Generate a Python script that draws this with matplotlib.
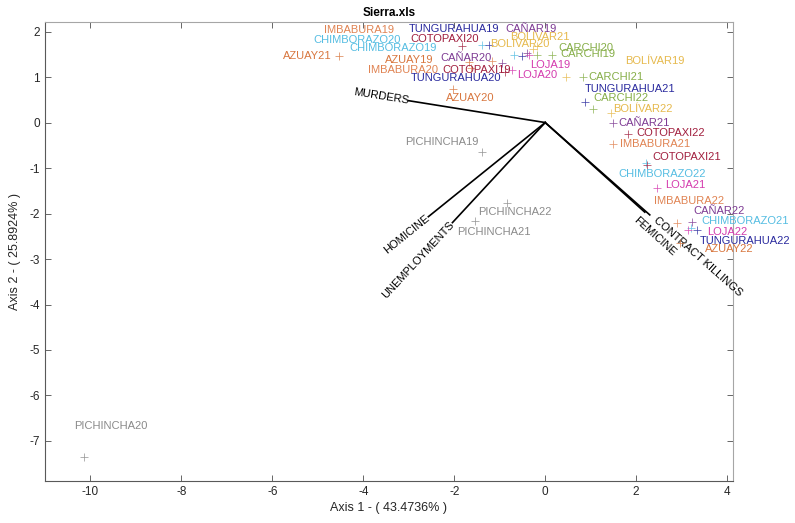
import numpy as np
import matplotlib
matplotlib.use("Agg")
import matplotlib.pyplot as plt

plt.rcParams['font.family'] = ['Liberation Sans', 'DejaVu Sans']
plt.rcParams['axes.unicode_minus'] = False

# scores (marker positions)
names = ['AZUAY19', 'AZUAY20', 'AZUAY21', 'AZUAY22',
         'BOLÍVAR19', 'BOLÍVAR20', 'BOLÍVAR21', 'BOLÍVAR22',
         'CAÑAR19', 'CAÑAR20', 'CAÑAR21', 'CAÑAR22',
         'CARCHI19', 'CARCHI20', 'CARCHI21', 'CARCHI22',
         'CHIMBORAZO19', 'CHIMBORAZO20', 'CHIMBORAZO21', 'CHIMBORAZO22',
         'COTOPAXI19', 'COTOPAXI20', 'COTOPAXI21', 'COTOPAXI22',
         'IMBABURA19', 'IMBABURA20', 'IMBABURA21', 'IMBABURA22',
         'LOJA19', 'LOJA20', 'LOJA21', 'LOJA22',
         'PICHINCHA19', 'PICHINCHA20', 'PICHINCHA21', 'PICHINCHA22',
         'TUNGURAHUA19', 'TUNGURAHUA20', 'TUNGURAHUA21', 'TUNGURAHUA22']

score_x = [-1.67, -2.02, -4.54, 2.96,
           0.46, -0.18, -0.26, 1.45,
           -0.39, -0.94, 1.49, 3.22,
           0.15, -0.18, 0.83, 1.05,
           -0.68, -1.38, 3.20, 2.21,
           -0.88, -1.82, 2.24, 1.82,
           -1.18, -1.64, 1.49, 2.89,
           -0.35, -0.72, 2.46, 3.14,
           -1.38, -10.15, -1.54, -0.83,
           -1.23, -0.50, 0.88, 3.33]

score_y = [1.33, 0.74, 1.47, -2.64,
           1.00, 1.69, 1.62, 0.21,
           1.53, 1.31, 0.00, -2.18,
           1.49, 1.49, 1.00, 0.30,
           1.49, 1.71, -2.31, -0.89,
           1.11, 1.69, -0.93, -0.25,
           1.36, 1.20, -0.47, -2.20,
           1.49, 1.16, -1.44, -2.36,
           -0.64, -7.35, -2.16, -1.76,
           1.71, 1.47, 0.45, -2.36]

# where the text labels sit (left edge, middle)
label_x = [-3.53, -2.19, -5.77, 3.51,
           1.75, -1.21, -0.77, 1.49,
           -0.88, -2.30, 1.62, 3.25,
           0.33, 0.29, 0.94, 1.05,
           -4.30, -5.09, 3.44, 1.60,
           -2.26, -2.96, 2.35, 2.00,
           -4.87, -3.90, 1.64, 2.39,
           -0.33, -0.61, 2.63, 3.57,
           -3.07, -10.37, -1.93, -1.47,
           -3.00, -2.96, 0.88, 3.40]

label_y = [1.38, 0.54, 1.47, -2.78,
           1.36, 1.73, 1.88, 0.30,
           2.06, 1.42, 0.00, -1.94,
           1.51, 1.64, 1.00, 0.54,
           1.64, 1.82, -2.16, -1.13,
           1.16, 1.84, -0.76, -0.23,
           2.04, 1.16, -0.47, -1.72,
           1.27, 1.05, -1.37, -2.40,
           -0.42, -6.67, -2.40, -1.96,
           2.06, 0.98, 0.74, -2.60]

# loading vectors
var_names = ['MURDERS', 'HOMICINE', 'UNEMPLOYMENTS', 'FEMICINE', 'CONTRACT KILLINGS']
var_x = [-3.00, -2.57, -2.04, 2.19, 2.30]
var_y = [0.48, -2.07, -2.20, -1.97, -2.03]

province_colors = {
    'AZUAY': '#D8763E', 'BOLÍVAR': '#E6B94C', 'CAÑAR': '#7D3A93',
    'CARCHI': '#86AE48', 'CHIMBORAZO': '#55BDE2', 'COTOPAXI': '#A11F3E',
    'IMBABURA': '#E08352', 'LOJA': '#D43BAE', 'PICHINCHA': '#8A8A8A',
    'TUNGURAHUA': '#2A2A9E',
}

fig = plt.figure(figsize=(7.95, 5.23), dpi=100)
ax = fig.add_axes([0.0566, 0.0803, 0.8654, 0.8776])

# vectors
for vx, vy in zip(var_x, var_y):
    ax.plot([0, vx], [0, vy], color='black', lw=1.2, zorder=2)

# vector labels
ang = [np.degrees(np.arctan2(vy, vx)) for vx, vy in zip(var_x, var_y)]
ax.text(var_x[0], var_y[0], var_names[0], rotation=ang[0] + 180, rotation_mode='anchor',
        ha='right', va='center', fontsize=8)
ax.text(var_x[1], var_y[1], var_names[1], rotation=ang[1] + 180, rotation_mode='anchor',
        ha='right', va='center', fontsize=8)
ax.text(var_x[2], var_y[2], var_names[2], rotation=ang[2] + 180, rotation_mode='anchor',
        ha='right', va='center', fontsize=8)
ax.text(1.97, -2.12, var_names[3], rotation=ang[3], rotation_mode='anchor',
        ha='left', va='center', fontsize=8)
ax.text(2.41, -2.12, var_names[4], rotation=ang[4], rotation_mode='anchor',
        ha='left', va='center', fontsize=8)

# observations
for n, x, y, lx, ly in zip(names, score_x, score_y, label_x, label_y):
    prov = n[:-2]
    c = province_colors[prov]
    ax.plot(x, y, '+', color=c, ms=6, mew=0.55, alpha=0.85, zorder=3)
    ax.text(lx, ly, n, color=c, fontsize=8, ha='left', va='center', clip_on=False, zorder=4)

ax.set_xlim(-11, 4.13)
ax.set_ylim(-7.88, 2.21)
ax.set_xticks(np.arange(-10, 5, 2))
ax.set_yticks(np.arange(-7, 3, 1))
ax.tick_params(direction='in', length=4, width=0.7, top=True, right=True,
               labelsize=8.5, colors='0.4', labelcolor='#262626')
for s in ['left', 'bottom']:
    ax.spines[s].set_color('0.35')
for s in ['top', 'right']:
    ax.spines[s].set_color('0.65')
for s in ax.spines.values():
    s.set_linewidth(0.8)

ax.set_title('Sierra.xls', fontsize=8.5, fontweight='bold', pad=4)
ax.set_xlabel('Axis 1 - ( 43.4736% )', fontsize=9, color='#262626', labelpad=3)
ax.set_ylabel('Axis 2 - ( 25.8924% )', fontsize=9, color='#262626', labelpad=6)

fig.savefig('out.png', dpi=100)
